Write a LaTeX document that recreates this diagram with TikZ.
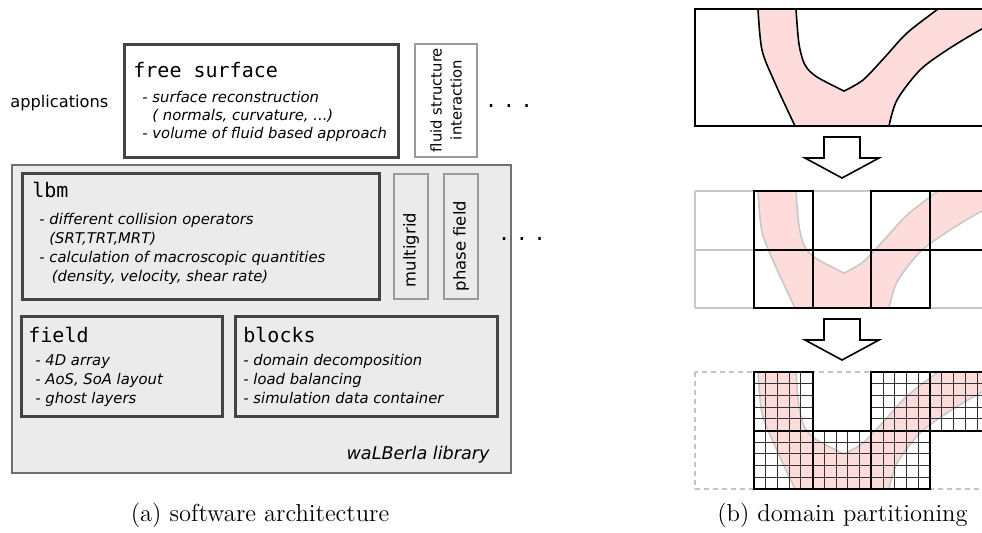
\documentclass[tikz,border=0pt]{standalone}
\usepackage{fontspec}
\setsansfont{DejaVu Sans}
\setmonofont{DejaVu Sans Mono}
\usetikzlibrary{fit}
\definecolor{libgray}{HTML}{EBEBEB}
\definecolor{darkframe}{HTML}{444444}
\definecolor{lightframe}{HTML}{9A9A9A}
\definecolor{libframe}{HTML}{707070}
\definecolor{bandpink}{HTML}{FFDCDC}
\definecolor{gridgray}{HTML}{C8C8C8}
\tikzset{
    darkbox/.style={draw=darkframe, line width=1.5pt, inner sep=0pt},
    lightbox/.style={draw=lightframe, line width=1pt, fill=white, inner sep=0pt},
    modtitle/.style={font=\fontsize{10}{12}\selectfont\ttfamily, inner sep=0pt, anchor=base west},
    moditems/.style={font=\fontsize{7.4}{9.5}\selectfont\sffamily\itshape, align=left, inner sep=0pt, anchor=base west},
    vlabel/.style={font=\fontsize{8.2}{10}\selectfont\sffamily, rotate=90, inner sep=0pt},
    moredots/.style={font=\fontsize{12}{14}\selectfont\sffamily, inner sep=0pt, anchor=base},
    subcap/.style={font=\fontsize{12.3}{14}\selectfont, inner sep=0pt, anchor=base},
    gridline/.style={draw=gridgray, line width=1pt},
    blockline/.style={draw=black, line width=1pt},
    cellline/.style={draw=black!80, line width=0.5pt},
    blockarrow/.style={draw=black, line width=0.8pt, fill=white, line join=miter},
}

\begin{document}
\begin{tikzpicture}[x=0.5pt, y=-0.5pt]
    \useasboundingbox (0,0) rectangle (982,532);
    \clip (0,0) rectangle (982,532);
    % (a) software architecture
    \node[draw=libframe, line width=0.75pt, fill=libgray, inner sep=0pt, fit={(12,165) (511,473)}] (lib) {};
    \node[darkbox, fill=white, fit={(124,44) (398,157)}] (fs) {};
    \node[lightbox, fit={(415,44) (477,157)}] (fsi) {};
    \node[darkbox, fill=libgray, fit={(22,173) (379,299)}] (lbm) {};
    \node[lightbox, fill=libgray, fit={(394,174) (428,299)}] (mg) {};
    \node[lightbox, fill=libgray, fit={(444,174) (478,299)}] (pf) {};
    \node[darkbox, fill=libgray, fit={(21,316) (222,416)}] (field) {};
    \node[darkbox, fill=libgray, fit={(235,316) (497,416)}] (blocks) {};

    % multi-line texts are anchored at the baseline of their last line
    \node[font=\fontsize{8.1}{10}\selectfont\sffamily, inner sep=0pt, anchor=base west] (apps) at (10,107) {applications};
    \node[modtitle] (fstitle) at (133,77) {free surface};
    \node[moditems, font=\fontsize{7.4}{9}\selectfont\sffamily\itshape] (fsitems) at (142,138)
        {- surface reconstruction\\\phantom{- }( normals, curvature, ...)\\- volume of fluid based approach};
    \node[vlabel, font=\fontsize{7.4}{10}\selectfont\sffamily, align=center] (fsilabel) at (446,100) {fluid structure\\interaction};
    \node[moredots] (dotsa) at (509,107) {. . .};

    \node[modtitle] (lbmtitle) at (32,197) {lbm};
    \node[moditems] (lbmitems) at (39,281)
        {- different collision operators\\\phantom{- }(SRT,TRT,MRT)\\- calculation of macroscopic quantities\\\phantom{- }\,(density, velocity, shear rate)};
    \node[vlabel] (mglabel) at (411,250) {multigrid};
    \node[vlabel] (pflabel) at (461,246) {phase field};
    \node[moredots] (dotsb) at (522,240) {. . .};

    \node[modtitle] (fieldtitle) at (28,342) {field};
    \node[moditems] (fielditems) at (35,403) {- 4D array\\- AoS, SoA layout\\- ghost layers};
    \node[modtitle] (blockstitle) at (243,342) {blocks};
    \node[moditems] (blocksitems) at (243,403) {- domain decomposition\\- load balancing\\- simulation data container};
    \node[font=\fontsize{8.8}{10}\selectfont\sffamily\itshape, inner sep=0pt, anchor=base east] (liblabel) at (490,459) {waLBerla library};

    % (b) domain partitioning
    \def\cw{58.8}
    \def\ch{58.5}
    \def\band{plot[smooth] coordinates {(63,0) (67,41) (80,74) (100,117)} -- (194,117)
        -- plot[smooth] coordinates {(194,117) (202,91) (225,61) (252,41) (285,21) (310,9)} -- (310,0) -- (243,0)
        -- plot[smooth] coordinates {(243,0) (212,24) (190,48) (168,71) (149,82)}
        -- plot[smooth] coordinates {(149,82) (122,68) (110,56) (104,35) (101,0)} -- cycle}
    \foreach \py/\edge in {9/black, 191/gridgray, 372/gridgray}{
        \begin{scope}[shift={(695,\py)}]
            \clip (0,0) rectangle (294,117);
            \fill[bandpink] \band;
            \draw[\edge, line width=0.8pt] plot[smooth] coordinates {(63,0) (67,41) (80,74) (100,117)};
            \draw[\edge, line width=0.8pt] plot[smooth] coordinates {(194,117) (202,91) (225,61) (252,41) (285,21) (310,9)};
            \draw[\edge, line width=0.8pt] plot[smooth] coordinates {(243,0) (212,24) (190,48) (168,71) (149,82)}
                -- plot[smooth] coordinates {(149,82) (122,68) (110,56) (104,35) (101,0)};
        \end{scope}
    }
    \draw[black, line width=0.9pt] (695,9) rectangle ++(294,117);

    \begin{scope}[shift={(695,191)}]
        \foreach \i in {0,...,5} \draw[gridline] (\i*\cw,0) -- (\i*\cw,117);
        \foreach \j in {0,1,2} \draw[gridline] (0,\j*\ch) -- (294,\j*\ch);
        \foreach \c/\r in {1/0, 3/0, 4/0, 1/1, 2/1, 3/1}
            \draw[blockline] (\c*\cw,\r*\ch) rectangle ++(\cw,\ch);
    \end{scope}

    \begin{scope}[shift={(695,372)}]
        \draw[gridgray!85!black!70, line width=0.8pt, dash pattern=on 2.5pt off 2pt] (0,0) rectangle (294,117);
        \foreach \c/\r in {1/0, 3/0, 4/0, 1/1, 2/1, 3/1}{
            \foreach \k in {1,...,4}{
                \draw[cellline] (\c*\cw+\k*\cw/5,\r*\ch) -- ++(0,\ch);
                \draw[cellline] (\c*\cw,\r*\ch+\k*\ch/5) -- ++(\cw,0);
            }
            \draw[blockline] (\c*\cw,\r*\ch) rectangle ++(\cw,\ch);
        }
    \end{scope}

    \foreach \t in {137, 319}
        \draw[blockarrow] (824,\t) -- (860,\t) -- (860,\t+21) -- (879,\t+21) -- (842,\t+41) -- (805,\t+21) -- (824,\t+21) -- cycle;

    \node[subcap] (capa) at (260,521) {(a) software architecture};
    \node[subcap] (capb) at (842.5,521) {(b) domain partitioning};
\end{tikzpicture}
\end{document}
